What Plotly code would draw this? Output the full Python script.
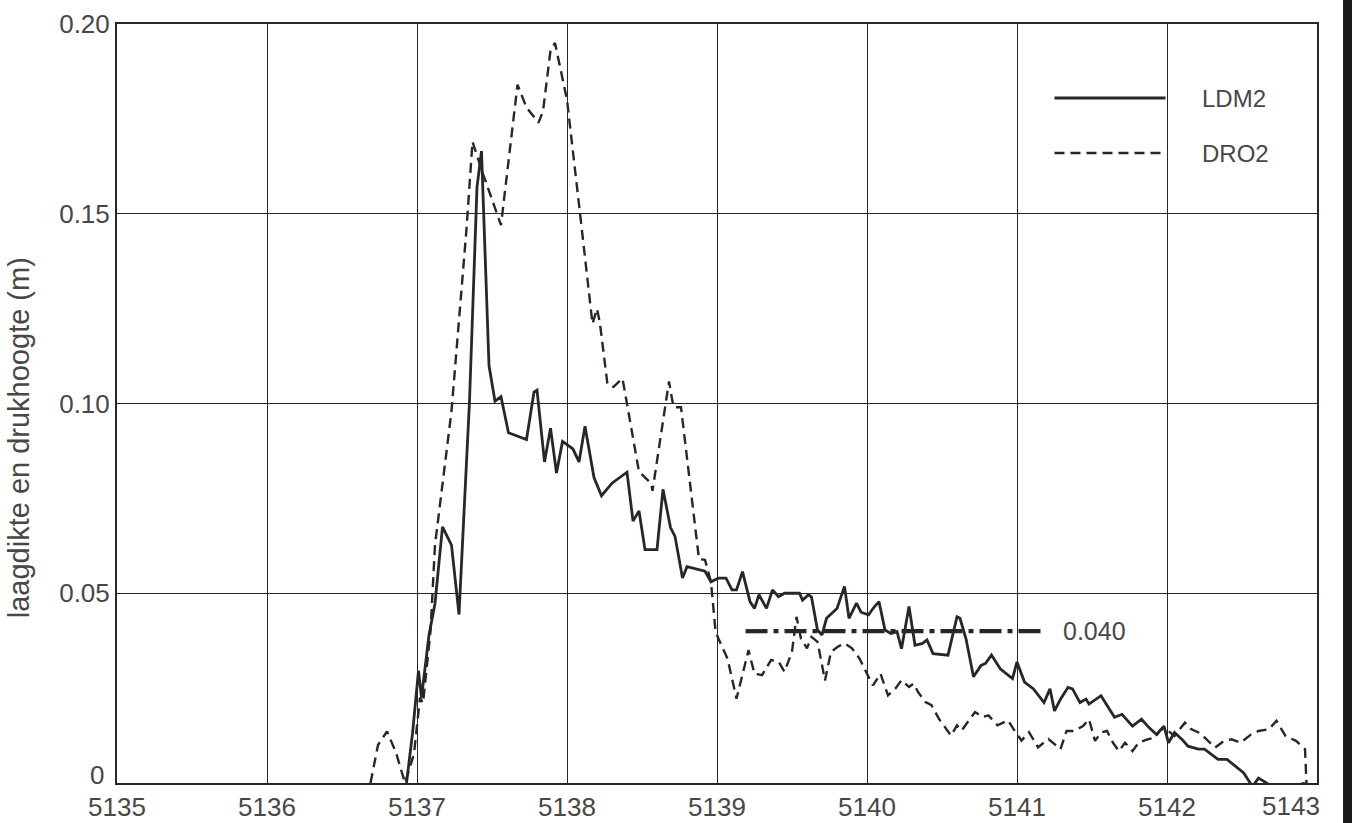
import plotly.graph_objects as go

# Chainage along the section (m) and measured values (m)
ldm2_x = [5136.93, 5136.97, 5137.01, 5137.03, 5137.08, 5137.12, 5137.17, 5137.23, 5137.28, 5137.35,
          5137.40, 5137.43, 5137.48, 5137.52, 5137.56, 5137.61, 5137.73, 5137.78, 5137.80, 5137.85,
          5137.89, 5137.93, 5137.97, 5138.04, 5138.08, 5138.12, 5138.18, 5138.23, 5138.30, 5138.40,
          5138.44, 5138.48, 5138.52, 5138.60, 5138.64, 5138.69, 5138.72, 5138.77, 5138.80, 5138.84,
          5138.92, 5138.96, 5139.01, 5139.06, 5139.10, 5139.13, 5139.17, 5139.22, 5139.25, 5139.28,
          5139.33, 5139.37, 5139.41, 5139.45, 5139.55, 5139.57, 5139.61, 5139.63, 5139.67, 5139.70,
          5139.73, 5139.80, 5139.85, 5139.88, 5139.93, 5139.96, 5140.01, 5140.05, 5140.08, 5140.12,
          5140.16, 5140.20, 5140.23, 5140.28, 5140.32, 5140.37, 5140.40, 5140.44, 5140.54, 5140.60,
          5140.62, 5140.66, 5140.71, 5140.76, 5140.79, 5140.83, 5140.89, 5140.97, 5141.00, 5141.05,
          5141.11, 5141.18, 5141.22, 5141.25, 5141.29, 5141.34, 5141.37, 5141.42, 5141.46, 5141.48,
          5141.56, 5141.65, 5141.70, 5141.77, 5141.83, 5141.88, 5141.93, 5141.98, 5142.01, 5142.05,
          5142.10, 5142.14, 5142.21, 5142.25, 5142.34, 5142.40, 5142.46, 5142.51, 5142.57, 5142.61,
          5142.68, 5142.72, 5142.75, 5142.79, 5142.84, 5142.92]
ldm2_y = [0.0, 0.013, 0.0296, 0.0225, 0.039, 0.0473, 0.0675, 0.0627, 0.0444, 0.1006,
          0.157, 0.1665, 0.110, 0.1006, 0.1018, 0.0923, 0.0905, 0.103, 0.1035, 0.0846,
          0.0935, 0.0817, 0.090, 0.088, 0.0846, 0.094, 0.0805, 0.0757, 0.079, 0.0819,
          0.069, 0.0717, 0.0615, 0.0615, 0.0774, 0.0673, 0.065, 0.054, 0.057, 0.0566,
          0.0558, 0.053, 0.054, 0.054, 0.0509, 0.0509, 0.0557, 0.0478, 0.046, 0.0496,
          0.046, 0.0509, 0.0491, 0.050, 0.050, 0.0482, 0.0496, 0.049, 0.0403, 0.039,
          0.0434, 0.046, 0.0518, 0.0434, 0.0474, 0.045, 0.0443, 0.0465, 0.0478, 0.0403,
          0.0394, 0.0399, 0.0354, 0.0465, 0.0363, 0.0368, 0.0377, 0.0341, 0.0337, 0.0438,
          0.0434, 0.038, 0.028, 0.031, 0.0315, 0.0337, 0.030, 0.0275, 0.0319, 0.0266,
          0.0248, 0.0212, 0.0248, 0.019, 0.0221, 0.0252, 0.0248, 0.0212, 0.0221, 0.0208,
          0.023, 0.0173, 0.0181, 0.015, 0.0168, 0.0146, 0.0128, 0.015, 0.0106, 0.0133,
          0.0115, 0.0097, 0.0089, 0.0089, 0.0062, 0.0062, 0.0044, 0.0027, -0.0009, 0.0013,
          -0.0004, -0.0004, -0.0018, -0.0009, -0.0009, 0.0]

dro2_x = [5136.69, 5136.74, 5136.80, 5136.86, 5136.92, 5136.98, 5137.02, 5137.04, 5137.09, 5137.12,
          5137.23, 5137.33, 5137.37, 5137.44, 5137.56, 5137.67, 5137.73, 5137.81, 5137.84, 5137.89,
          5137.92, 5138.00, 5138.09, 5138.17, 5138.20, 5138.22, 5138.27, 5138.31, 5138.37, 5138.48,
          5138.56, 5138.57, 5138.68, 5138.71, 5138.76, 5138.88, 5138.92, 5138.96, 5138.99, 5139.01,
          5139.07, 5139.13, 5139.21, 5139.25, 5139.30, 5139.36, 5139.41, 5139.45, 5139.50, 5139.53,
          5139.56, 5139.60, 5139.63, 5139.67, 5139.72, 5139.76, 5139.81, 5139.85, 5139.90, 5139.95,
          5140.00, 5140.04, 5140.09, 5140.14, 5140.19, 5140.23, 5140.28, 5140.31, 5140.34, 5140.39,
          5140.43, 5140.48, 5140.56, 5140.60, 5140.63, 5140.68, 5140.72, 5140.77, 5140.81, 5140.87,
          5140.94, 5140.99, 5141.03, 5141.08, 5141.14, 5141.21, 5141.29, 5141.33, 5141.38, 5141.44,
          5141.48, 5141.52, 5141.56, 5141.60, 5141.64, 5141.68, 5141.72, 5141.77, 5141.81, 5141.87,
          5141.92, 5141.96, 5142.01, 5142.05, 5142.12, 5142.16, 5142.21, 5142.25, 5142.32, 5142.38,
          5142.43, 5142.49, 5142.56, 5142.61, 5142.68, 5142.73, 5142.79, 5142.86, 5142.92, 5142.93]
dro2_y = [0.0, 0.010, 0.0136, 0.008, 0.0, 0.0077, 0.0225, 0.021, 0.040, 0.0627,
          0.098, 0.146, 0.169, 0.1605, 0.147, 0.184, 0.178, 0.174, 0.177, 0.193,
          0.195, 0.180, 0.149, 0.121, 0.125, 0.121, 0.105, 0.1044, 0.1066, 0.082,
          0.079, 0.077, 0.1058, 0.099, 0.099, 0.059, 0.0588, 0.053, 0.040, 0.038,
          0.0328, 0.0222, 0.035, 0.0288, 0.0284, 0.0324, 0.032, 0.0293, 0.0346, 0.0438,
          0.038, 0.0355, 0.0385, 0.0372, 0.027, 0.0346, 0.036, 0.0368, 0.0355, 0.0328,
          0.0288, 0.0257, 0.0288, 0.0231, 0.0249, 0.0271, 0.0253, 0.0262, 0.024, 0.0213,
          0.0205, 0.0169, 0.0125, 0.0152, 0.0138, 0.0165, 0.0187, 0.0174, 0.0178, 0.0152,
          0.0165, 0.0134, 0.0112, 0.0134, 0.0094, 0.0116, 0.0089, 0.0137, 0.0137, 0.015,
          0.0168, 0.0111, 0.0133, 0.0137, 0.0106, 0.0084, 0.0106, 0.0084, 0.0106, 0.0115,
          0.012, 0.0142, 0.0137, 0.0124, 0.0159, 0.0142, 0.0133, 0.012, 0.0093, 0.0111,
          0.0115, 0.0106, 0.0128, 0.0137, 0.0142, 0.0164, 0.0124, 0.0111, 0.0089, 0.0]

# Reference level drawn as a dash-dot segment
threshold_value = 0.040
threshold_x = [5139.19, 5141.17]

x_ticks = [5135, 5136, 5137, 5138, 5139, 5140, 5141, 5142, 5143]
y_ticks = [0, 0.05, 0.10, 0.15, 0.20]
y_tick_labels = ["0", "0.05", "0.10", "0.15", "0.20"]

INK = "#2b2626"
TEXT = "#4a4646"
FONT = "Liberation Sans, Arial, sans-serif"

fig = go.Figure()

fig.add_trace(go.Scatter(
    x=ldm2_x, y=ldm2_y, mode="lines", name="LDM2",
    line=dict(color=INK, width=2.8), showlegend=False,
))
fig.add_trace(go.Scatter(
    x=dro2_x, y=dro2_y, mode="lines", name="DRO2",
    line=dict(color=INK, width=2.4, dash="10px,6px"), showlegend=False,
))
fig.add_trace(go.Scatter(
    x=threshold_x, y=[threshold_value, threshold_value], mode="lines",
    line=dict(color=INK, width=4.2, dash="22px,6px,5px,6px"), showlegend=False,
))

# Corner labels are placed separately: the last x label sits flush against the
# right frame edge and the y origin label is lifted clear of the x labels.
x_tick_text = [str(v) for v in x_ticks[:-1]] + [""]
y_tick_text = [""] + y_tick_labels[1:]

annotations = [
    dict(x=x_ticks[-1], y=0, xref="x", yref="paper", text=str(x_ticks[-1]),
         showarrow=False, xanchor="right", yanchor="top", xshift=5, yshift=-6,
         font=dict(family=FONT, size=26, color=TEXT)),
    dict(x=0, y=y_ticks[0], xref="paper", yref="y", text=y_tick_labels[0],
         showarrow=False, xanchor="right", yanchor="middle", xshift=-11, yshift=8,
         font=dict(family=FONT, size=26, color=TEXT)),
    dict(x=threshold_x[1] + 0.12, y=threshold_value, xref="x", yref="y",
         text=f"{threshold_value:.3f}", showarrow=False, xanchor="left", yanchor="middle",
         font=dict(family=FONT, size=25, color=TEXT)),
    dict(x=5142.22, y=0.1805, xref="x", yref="y", text="LDM2", showarrow=False,
         xanchor="left", yanchor="middle", font=dict(family=FONT, size=24, color=TEXT)),
    dict(x=5142.22, y=0.1660, xref="x", yref="y", text="DRO2", showarrow=False,
         xanchor="left", yanchor="middle", font=dict(family=FONT, size=24, color=TEXT)),
    dict(x=-0.082, y=0.455, xref="paper", yref="paper", text="laagdikte en drukhoogte (m)",
         showarrow=False, textangle=-90, xanchor="center", yanchor="middle",
         font=dict(family=FONT, size=29, color=TEXT)),
]

shapes = [
    # legend samples
    dict(type="line", xref="x", yref="y", x0=5141.25, x1=5141.99, y0=0.1805, y1=0.1805,
         line=dict(color=INK, width=2.8)),
    dict(type="line", xref="x", yref="y", x0=5141.25, x1=5141.99, y0=0.1660, y1=0.1660,
         line=dict(color=INK, width=2.4, dash="10px,6px")),
    # dark page edge on the right
    dict(type="rect", xref="paper", yref="paper", x0=1.0217, x1=1.05, y0=-0.06, y1=1.04,
         fillcolor="#1c1a1a", line=dict(width=0), layer="above"),
]

fig.update_layout(
    width=1352, height=823,
    margin=dict(l=117, r=35, t=24, b=40, autoexpand=False),
    paper_bgcolor="white", plot_bgcolor="white",
    annotations=annotations, shapes=shapes,
    showlegend=False,
)
fig.update_xaxes(
    range=[5135, 5143], tickvals=x_ticks, ticktext=x_tick_text,
    showgrid=True, gridcolor=INK, gridwidth=1.4, zeroline=False, automargin=False,
    showline=True, linecolor=INK, linewidth=2, mirror=True, ticks="",
    tickfont=dict(family=FONT, size=26, color=TEXT),
)
fig.update_yaxes(
    range=[0, 0.20], tickvals=y_ticks, ticktext=y_tick_text,
    showgrid=True, gridcolor=INK, gridwidth=1.4, zeroline=False, automargin=False,
    showline=True, linecolor=INK, linewidth=2, mirror=True, ticks="",
    tickfont=dict(family=FONT, size=26, color=TEXT),
)

fig.write_html("out.html")
